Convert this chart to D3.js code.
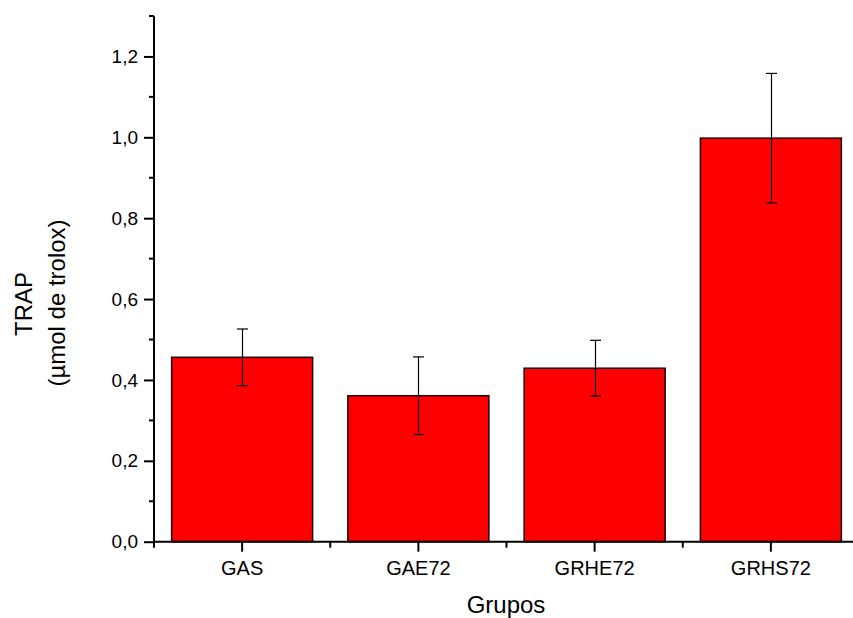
<!DOCTYPE html>
<html>
<head>
<meta charset="utf-8">
<script src="https://cdn.jsdelivr.net/npm/d3@7"></script>
<style>
  html, body { margin: 0; padding: 0; background: #fff; }
  svg { display: block; }
  text { font-family: Arial, "Liberation Sans", sans-serif; fill: #000; }
</style>
</head>
<body>
<svg id="chart" width="853" height="618"></svg>
<script>
const categories = ["GAS", "GAE72", "GRHE72", "GRHS72"];
const values = [0.456, 0.361, 0.429, 0.998];
const errors = [0.070, 0.096, 0.069, 0.160];
const yMajorTicks = [0.0, 0.2, 0.4, 0.6, 0.8, 1.0, 1.2];
const yMinorTicks = [0.1, 0.3, 0.5, 0.7, 0.9, 1.1, 1.3];
const yTitle = "TRAP";
const yTitle2 = "(\u00b5mol de trolox)";
const xTitle = "Grupos";

const svg = d3.select("#chart");
const x0 = 154, x1 = 859, yBottom = 541.7, yTop = 16;

const x = d3.scaleBand().domain(categories).range([x0, x1])
  .paddingInner(0.2).paddingOuter(0.1);
const y = d3.scaleLinear().domain([0, 1.3]).range([yBottom, yTop]);

const data = categories.map((c, i) => ({c, v: values[i], e: errors[i]}));

// bars
svg.append("g").selectAll("rect").data(data).join("rect")
  .attr("x", d => x(d.c))
  .attr("y", d => y(d.v))
  .attr("width", x.bandwidth())
  .attr("height", d => y(0) - y(d.v))
  .attr("fill", "#ff0000")
  .attr("stroke", "#1a0000")
  .attr("stroke-width", 1.5);

// error bars
const eg = svg.append("g").attr("stroke", "#000").attr("stroke-width", 1.2);
data.forEach(d => {
  const cx = Math.round(x(d.c) + x.bandwidth() / 2) + 0.5;
  eg.append("line").attr("x1", cx).attr("x2", cx).attr("y1", y(d.v + d.e)).attr("y2", y(d.v - d.e));
  eg.append("line").attr("x1", cx - 5.5).attr("x2", cx + 5.5).attr("y1", y(d.v + d.e)).attr("y2", y(d.v + d.e));
  eg.append("line").attr("x1", cx - 5.5).attr("x2", cx + 5.5).attr("y1", y(d.v - d.e)).attr("y2", y(d.v - d.e));
});

// y axis
const fmt = v => d3.format(".1f")(v).replace(".", ",");
const yAxis = svg.append("g").attr("transform", `translate(${x0},0)`)
  .call(d3.axisLeft(y).tickValues(yMajorTicks).tickFormat(fmt).tickSize(10).tickPadding(6).tickSizeOuter(0));
yAxis.select(".domain").remove();
yAxis.selectAll(".tick line").attr("stroke-width", 2);
yAxis.selectAll(".tick text").style("font-size", "19px").style("font-family", "Arial, 'Liberation Sans', sans-serif");
yAxis.append("g").selectAll("line").data(yMinorTicks).join("line")
  .attr("x1", -5).attr("x2", 0).attr("y1", d => y(d)).attr("y2", d => y(d))
  .attr("stroke", "#000").attr("stroke-width", 2);
svg.append("line").attr("x1", x0).attr("x2", x0).attr("y1", yTop).attr("y2", yBottom + 1)
  .attr("stroke", "#000").attr("stroke-width", 2);

// x axis
const xAxis = svg.append("g").attr("transform", `translate(0,${yBottom})`)
  .call(d3.axisBottom(x).tickSize(10).tickPadding(9).tickSizeOuter(0));
xAxis.select(".domain").remove();
xAxis.selectAll(".tick line").attr("stroke-width", 2);
xAxis.selectAll(".tick text").style("font-size", "20px").style("font-family", "Arial, 'Liberation Sans', sans-serif");
const bounds = [x0].concat(categories.map(c => x(c) + x.bandwidth() + x.step() * x.paddingInner() / 2));
xAxis.append("g").selectAll("line").data(bounds).join("line")
  .attr("x1", d => d).attr("x2", d => d).attr("y1", 0).attr("y2", 6)
  .attr("stroke", "#000").attr("stroke-width", 2);
svg.append("line").attr("x1", x0 - 1).attr("x2", 853).attr("y1", yBottom).attr("y2", yBottom)
  .attr("stroke", "#000").attr("stroke-width", 2);

// titles
svg.append("text").attr("x", 506).attr("y", 613)
  .attr("text-anchor", "middle").style("font-size", "24px").text(xTitle);
svg.append("text").attr("transform", "translate(31.5,304) rotate(-90)")
  .attr("text-anchor", "middle").style("font-size", "24px").text(yTitle);
svg.append("text").attr("transform", "translate(65,303) rotate(-90)")
  .attr("text-anchor", "middle").style("font-size", "24px").text(yTitle2);
</script>
</body>
</html>
